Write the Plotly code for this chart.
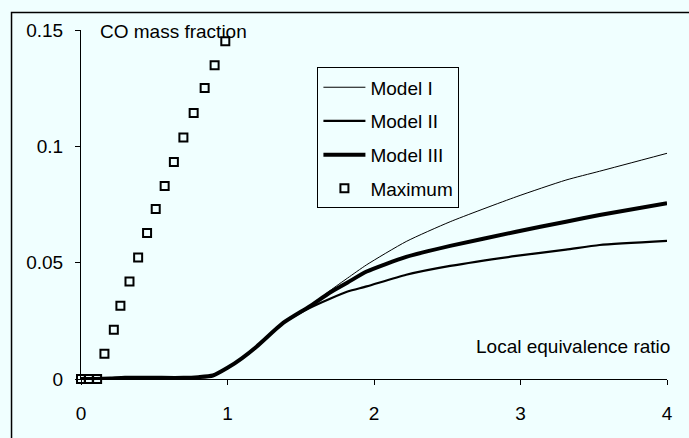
import plotly.graph_objects as go

# Local equivalence ratio grid for the model curves
phi = [0, 0.1, 0.2, 0.3, 0.5, 0.7, 0.8, 0.9, 1.0, 1.1, 1.2, 1.38, 1.56,
       1.7, 1.82, 1.95, 2.22, 2.52, 2.97, 3.31, 3.54, 4.0]

# CO mass fraction predicted by each model
model_1 = [0, 0, 0.0002, 0.0005, 0.0005, 0.0005, 0.0008, 0.0015, 0.0048,
           0.009, 0.014, 0.0241, 0.0312, 0.0380, 0.0434, 0.0491, 0.0591,
           0.0676, 0.0783, 0.0855, 0.0893, 0.0970]
model_2 = [0, 0, 0.0002, 0.0005, 0.0005, 0.0005, 0.0008, 0.0015, 0.0048,
           0.009, 0.014, 0.0241, 0.0305, 0.0345, 0.0376, 0.0398, 0.0448,
           0.0486, 0.0529, 0.0556, 0.0576, 0.0594]
model_3 = [0, 0, 0.0002, 0.0005, 0.0005, 0.0005, 0.0008, 0.0015, 0.0048,
           0.009, 0.014, 0.0241, 0.0312, 0.0372, 0.0415, 0.0462, 0.0525,
           0.0572, 0.0633, 0.0676, 0.0705, 0.0756]

# Maximum CO mass fraction
phi_max = [0, 0.053, 0.11, 0.16, 0.224, 0.269, 0.331, 0.39, 0.451, 0.51,
           0.571, 0.634, 0.699, 0.769, 0.844, 0.912, 0.985]
co_max = [0, 0, 0, 0.0108, 0.0212, 0.0315, 0.0419, 0.0522, 0.0627, 0.0731,
          0.0829, 0.0933, 0.1038, 0.1143, 0.1251, 0.1348, 0.1452]

x_ticks = [0, 1, 2, 3, 4]
y_ticks = [0, 0.05, 0.1, 0.15]
y_tick_text = ["0", "0.05", "0.1", "0.15"]

BG = "#F0FFFF"
FONT = "Liberation Sans, Arial, sans-serif"

fig = go.Figure()
for i, (name, ys, w) in enumerate([("Model I", model_1, 1.0),
                                   ("Model II", model_2, 2.2),
                                   ("Model III", model_3, 4.0)]):
    fig.add_trace(go.Scatter(x=phi, y=ys, mode="lines", name=name,
                             legendgroup=str(i),
                             line=dict(color="black", width=w, shape="spline",
                                       smoothing=0.6),
                             cliponaxis=False))
fig.add_trace(go.Scatter(x=phi_max, y=co_max, mode="markers", name="Maximum",
                         legendgroup="3",
                         marker=dict(symbol="square-open", size=8, color="black",
                                     line=dict(width=2)),
                         cliponaxis=False))

L, R, T, B = 80.5, 22.3, 29.5, 58.5
W, H = 689, 438
pw, ph = W - L - R, H - T - B

fig.update_layout(
    width=W, height=H,
    margin=dict(l=L, r=R, t=T, b=B, pad=0),
    paper_bgcolor=BG, plot_bgcolor=BG,
    font=dict(family=FONT, size=19, color="black"),
    showlegend=True,
    legend=dict(x=(317 - L) / pw, y=(H - B - 67) / ph, xanchor="left", yanchor="top",
                bgcolor=BG, bordercolor="black", borderwidth=1,
                font=dict(size=19), traceorder="grouped", tracegroupgap=6,
                itemwidth=42),
    xaxis=dict(range=[0, 4], tickvals=x_ticks, ticks="outside", ticklen=5,
               tickcolor="black", showline=True, linecolor="black", linewidth=1,
               showgrid=False, zeroline=False, ticklabelstandoff=12),
    yaxis=dict(range=[0, 0.15], tickvals=y_ticks, ticktext=y_tick_text,
               ticks="outside", ticklen=5, tickcolor="black", showline=True,
               linecolor="black", linewidth=1, showgrid=False, zeroline=False,
               ticklabelstandoff=8),
    annotations=[
        dict(text="CO mass fraction", xref="paper", yref="paper",
             x=(98 - L) / pw, y=(H - B - 31) / ph, xanchor="left", yanchor="middle",
             showarrow=False, font=dict(size=19)),
        dict(text="Local equivalence ratio", xref="paper", yref="paper",
             x=(672 - L) / pw, y=(H - B - 347) / ph, xanchor="right",
             yanchor="middle", showarrow=False, font=dict(size=19)),
    ],
    shapes=[
        dict(type="rect", xref="paper", yref="paper",
             x0=(11 - L) / pw, x1=(W + 20 - L) / pw,
             y0=(H - B - (H + 20)) / ph, y1=(H - B - 12) / ph,
             line=dict(color="black", width=1.5), layer="above"),
    ],
)

fig.write_html("out.html")
